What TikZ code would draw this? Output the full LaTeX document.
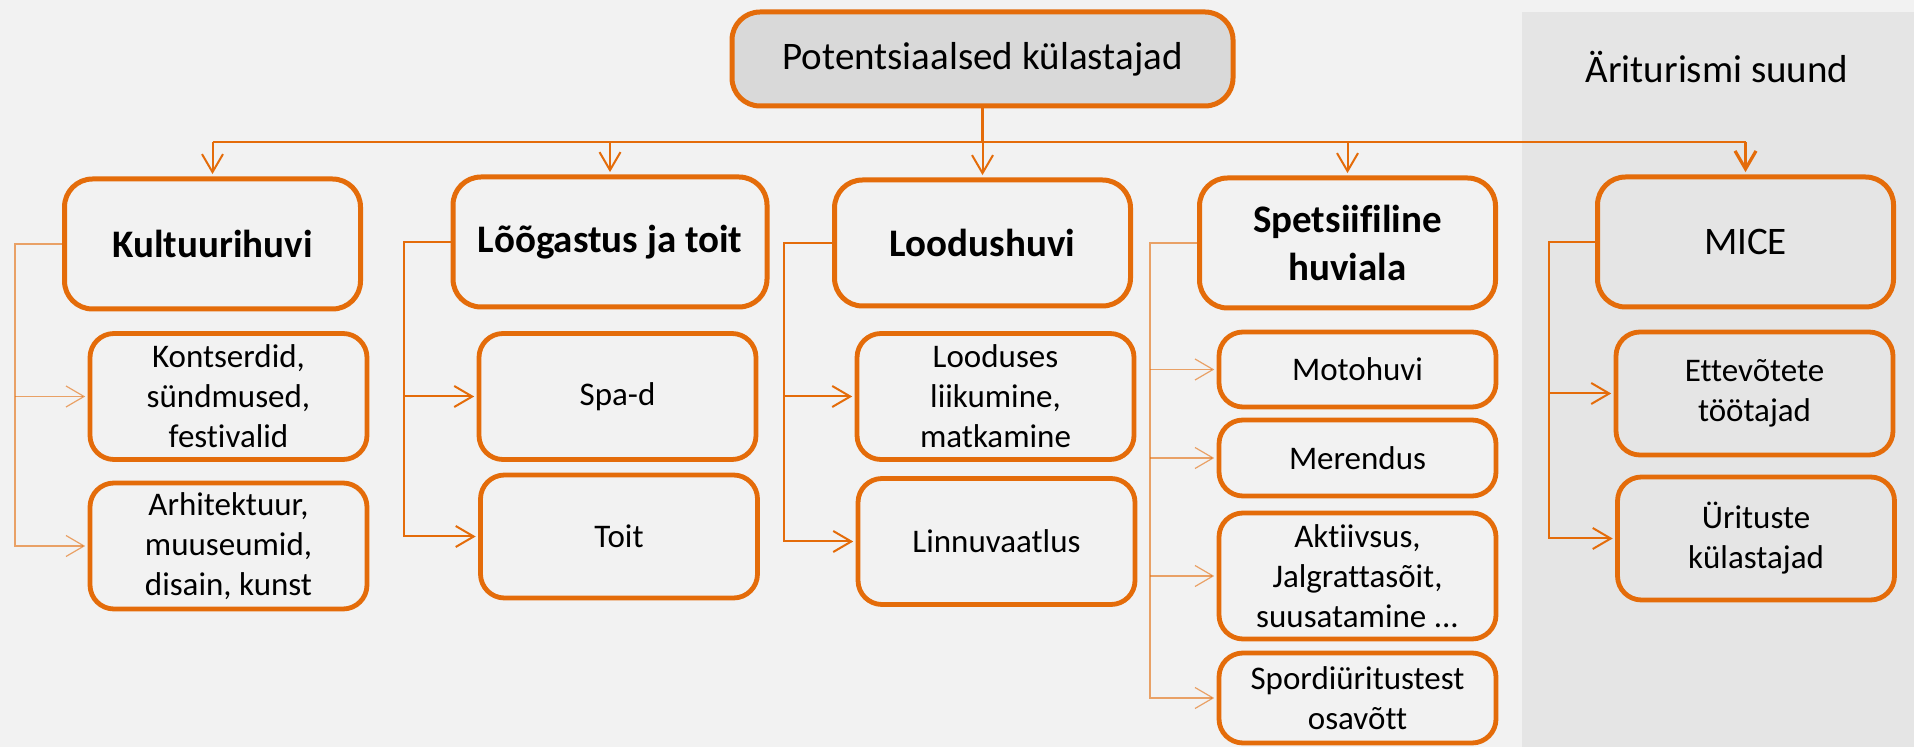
\documentclass[tikz,border=0pt]{standalone}
\usepackage{fontspec}
\setmainfont{Carlito}[Ligatures=CommonOff]
\usetikzlibrary{arrows.meta}
\definecolor{orangeline}{HTML}{E46C0A}
\definecolor{bggray}{HTML}{F2F2F2}
\definecolor{panelgray}{HTML}{E5E5E5}
\definecolor{headgray}{HTML}{D9D9D9}
\tikzset{
  bigbox/.style={draw=orangeline, line width=2.5pt, rounded corners=14pt, inner sep=0pt,
    minimum width=148pt, minimum height=65pt,
    align=center, font=\fontsize{19.5}{24}\selectfont\bfseries},
  smallbox/.style={draw=orangeline, line width=2.4pt, rounded corners=12pt, inner sep=0pt,
    minimum width=138.5pt, minimum height=63pt,
    align=center, font=\fontsize{16.5}{20}\selectfont},
  bus/.style={draw=orangeline, line width=1.4pt},
  drop/.style={draw=orangeline, line width=1pt, shorten >=1.2pt,
    -{Straight Barb[length=9pt,width=10.5pt]}},
  side/.style={draw=orangeline, line width=1pt, shorten >=1.2pt,
    -{Straight Barb[length=9pt,width=10.5pt]}},
  faintside/.style={side, line width=0.6pt, draw opacity=0.6},
}
\begin{document}
\begin{tikzpicture}[x=0.5pt,y=-0.5pt]
\fill[bggray] (0,0) rectangle (1914,747);
\useasboundingbox (0,0) rectangle (1914,747);
\fill[panelgray] (1522,12) rectangle (1914,747);
\node[anchor=base, font=\fontsize{19.5}{24}\selectfont] (suund) at (1717,83) {Äriturismi suund};

% top box
\node[bigbox, fill=headgray, font=\fontsize{19.5}{24}\selectfont,
  minimum width=250.5pt, minimum height=47pt] (top) at (982.5,59) {Potentsiaalsed külastajad};

% first level
\node[bigbox] (kult) at (212.5,244) {Kultuurihuvi};
\node[bigbox, minimum width=157pt] (loog) at (610,242) {Lõõgastus ja toit};
\node[bigbox, minimum height=63pt] (lood) at (982.5,243) {Loodushuvi};
\node[bigbox] (spets) at (1347.5,243) {Spetsiifiline\\huviala};
\node[bigbox, font=\fontsize{19.5}{24}\selectfont] (mice) at (1745.5,242) {MICE};

% second level
\node[smallbox] (kons) at (228.5,396.5) {Kontserdid,\\sündmused,\\festivalid};
\node[smallbox] (arh) at (228.5,546) {Arhitektuur,\\muuseumid,\\disain, kunst};
\node[smallbox] (spa) at (617.5,396.5) {Spa-d};
\node[smallbox, minimum height=61.5pt] (toit) at (619,536.5) {Toit};
\node[smallbox] (liik) at (995.5,396.5) {Looduses\\liikumine,\\matkamine};
\node[smallbox] (linnu) at (996.5,541.5) {Linnuvaatlus};
\node[smallbox, minimum height=37.5pt] (moto) at (1357.5,369.5) {Motohuvi};
\node[smallbox, minimum height=38pt] (meri) at (1357.5,458) {Merendus};
\node[smallbox] (akt) at (1357.5,576) {Aktiivsus,\\Jalgrattasõit,\\suusatamine ...};
\node[smallbox, minimum height=45pt] (spordi) at (1357.5,698) {Spordiüritustest\\osavõtt};
\node[smallbox, minimum height=61.5pt] (ettev) at (1754.5,393.5) {Ettevõtete\\töötajad};
\node[smallbox, minimum height=61.5pt] (yrit) at (1756,538.5) {Ürituste\\külastajad};

% bus from the top box
\coordinate (busy) at (981,142);
\draw[bus] (top.south) -- (top.south |- busy);
\draw[bus] (kult.north |- busy) -- (mice.north |- busy);
\foreach \n in {kult,loog,lood,spets}
  \draw[drop] (\n.north |- busy) -- (\n.north);
\draw[drop, line width=1.6pt] (mice.north |- busy) -- (mice.north);

% side connectors
\coordinate (kultx) at (15,0);
\coordinate (loogx) at (404,0);
\coordinate (loodx) at (784,0);
\coordinate (spetsx) at (1150,0);
\coordinate (micex) at (1549,0);
\draw[faintside] (kult.west) -| (kultx |- arh.west) -- (arh.west);
\draw[faintside] (kultx |- kons.west) -- (kons.west);
\draw[side] (loog.west) -| (loogx |- toit.west) -- (toit.west);
\draw[side] (loogx |- spa.west) -- (spa.west);
\draw[side] (lood.west) -| (loodx |- linnu.west) -- (linnu.west);
\draw[side] (loodx |- liik.west) -- (liik.west);
\draw[faintside] (spets.west) -| (spetsx |- spordi.west) -- (spordi.west);
\foreach \n in {moto,meri,akt}
  \draw[faintside] (spetsx |- \n.west) -- (\n.west);
\draw[side] (mice.west) -| (micex |- yrit.west) -- (yrit.west);
\draw[side] (micex |- ettev.west) -- (ettev.west);
\end{tikzpicture}
\end{document}
